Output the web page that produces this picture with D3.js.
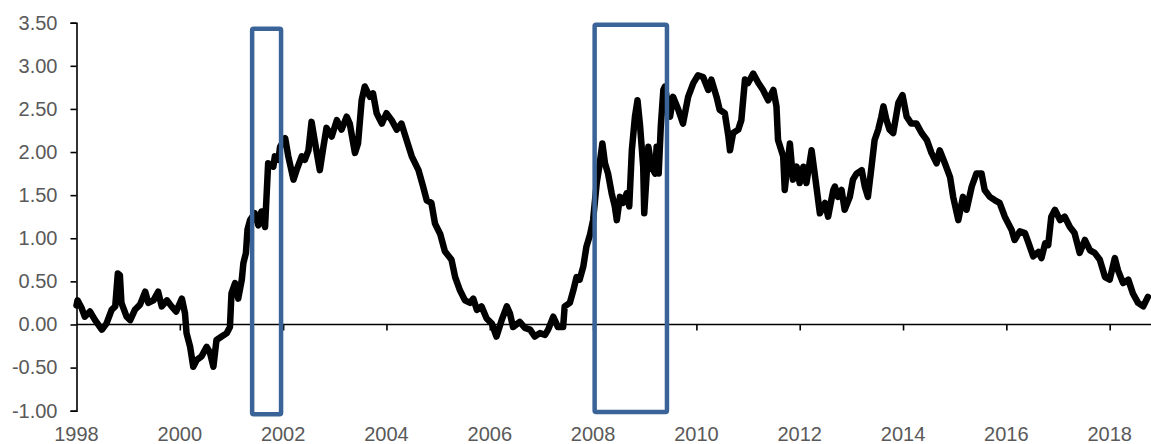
<!DOCTYPE html>
<html>
<head>
<meta charset="utf-8">
<script src="https://cdn.jsdelivr.net/npm/d3@7"></script>
<style>
  body { margin: 0; background: #fff; }
  svg text { font-family: "Liberation Sans", Arial, sans-serif; fill: #595959; }
</style>
</head>
<body>
<svg id="plot" width="1151" height="444"></svg>
<script>
// spread series (decimal year, value)
var years = [
  1998.00, 1998.02, 1998.10, 1998.16, 1998.26, 1998.36, 1998.49, 1998.58, 1998.68, 1998.75,
  1998.80, 1998.84, 1998.87, 1998.97, 1999.04, 1999.13, 1999.23, 1999.33, 1999.39, 1999.49,
  1999.58, 1999.65, 1999.75, 1999.84, 1999.93, 2000.04, 2000.10, 2000.13, 2000.20, 2000.26,
  2000.33, 2000.42, 2000.52, 2000.58, 2000.65, 2000.71, 2000.81, 2000.91, 2000.97, 2001.00,
  2001.07, 2001.13, 2001.20, 2001.23, 2001.28, 2001.31, 2001.36, 2001.45, 2001.52, 2001.58,
  2001.65, 2001.71, 2001.81, 2001.84, 2001.91, 2001.94, 2002.04, 2002.10, 2002.20, 2002.26,
  2002.36, 2002.42, 2002.49, 2002.55, 2002.62, 2002.71, 2002.78, 2002.84, 2002.94, 2003.04,
  2003.13, 2003.23, 2003.29, 2003.39, 2003.45, 2003.52, 2003.58, 2003.68, 2003.74, 2003.81,
  2003.91, 2004.00, 2004.10, 2004.20, 2004.29, 2004.39, 2004.49, 2004.62, 2004.71, 2004.78,
  2004.87, 2004.94, 2005.04, 2005.13, 2005.26, 2005.33, 2005.42, 2005.52, 2005.62, 2005.68,
  2005.75, 2005.84, 2005.94, 2006.04, 2006.13, 2006.23, 2006.33, 2006.39, 2006.45, 2006.58,
  2006.68, 2006.78, 2006.87, 2006.97, 2007.07, 2007.13, 2007.23, 2007.32, 2007.42, 2007.45,
  2007.55, 2007.62, 2007.68, 2007.74, 2007.81, 2007.87, 2007.94, 2008.00, 2008.07, 2008.12,
  2008.18, 2008.23, 2008.29, 2008.36, 2008.42, 2008.46, 2008.52, 2008.58, 2008.65, 2008.70,
  2008.75, 2008.81, 2008.86, 2008.91, 2008.97, 2008.99, 2009.07, 2009.13, 2009.20, 2009.23,
  2009.27, 2009.31, 2009.36, 2009.39, 2009.49, 2009.55, 2009.65, 2009.74, 2009.84, 2009.94,
  2010.03, 2010.13, 2010.23, 2010.29, 2010.39, 2010.45, 2010.55, 2010.62, 2010.65, 2010.71,
  2010.81, 2010.87, 2010.94, 2011.00, 2011.10, 2011.20, 2011.29, 2011.39, 2011.49, 2011.55,
  2011.58, 2011.68, 2011.71, 2011.81, 2011.87, 2011.94, 2012.00, 2012.07, 2012.13, 2012.23,
  2012.29, 2012.39, 2012.49, 2012.55, 2012.65, 2012.68, 2012.74, 2012.81, 2012.87, 2012.97,
  2013.03, 2013.10, 2013.20, 2013.26, 2013.32, 2013.39, 2013.45, 2013.52, 2013.58, 2013.62,
  2013.68, 2013.74, 2013.81, 2013.91, 2013.99, 2014.07, 2014.16, 2014.26, 2014.36, 2014.46,
  2014.55, 2014.65, 2014.71, 2014.81, 2014.91, 2014.97, 2015.07, 2015.16, 2015.23, 2015.33,
  2015.42, 2015.52, 2015.58, 2015.68, 2015.78, 2015.87, 2015.97, 2016.10, 2016.16, 2016.26,
  2016.36, 2016.42, 2016.52, 2016.62, 2016.68, 2016.75, 2016.81, 2016.87, 2016.94, 2017.04,
  2017.13, 2017.23, 2017.32, 2017.42, 2017.52, 2017.62, 2017.71, 2017.81, 2017.91, 2018.00,
  2018.10, 2018.16, 2018.26, 2018.36, 2018.45, 2018.55, 2018.65, 2018.74
];
var values = [
  0.22, 0.28, 0.19, 0.09, 0.15, 0.05, -0.06, 0.01, 0.17, 0.21,
  0.59, 0.57, 0.25, 0.09, 0.05, 0.17, 0.23, 0.38, 0.25, 0.28,
  0.38, 0.21, 0.28, 0.21, 0.15, 0.30, 0.13, -0.10, -0.26, -0.49,
  -0.41, -0.37, -0.26, -0.32, -0.49, -0.18, -0.14, -0.10, -0.03, 0.36,
  0.48, 0.30, 0.52, 0.71, 0.83, 1.10, 1.21, 1.29, 1.15, 1.31,
  1.13, 1.87, 1.83, 1.95, 1.91, 2.06, 2.16, 1.95, 1.68, 1.79,
  1.95, 1.91, 2.02, 2.35, 2.10, 1.79, 2.06, 2.28, 2.18, 2.37,
  2.26, 2.41, 2.33, 1.99, 2.10, 2.60, 2.76, 2.64, 2.68, 2.45,
  2.33, 2.45, 2.37, 2.26, 2.33, 2.14, 1.95, 1.79, 1.60, 1.44,
  1.41, 1.17, 1.05, 0.85, 0.75, 0.55, 0.40, 0.28, 0.25, 0.30,
  0.17, 0.21, 0.07, 0.01, -0.14, 0.05, 0.21, 0.13, -0.03, 0.03,
  -0.04, -0.06, -0.14, -0.10, -0.12, -0.06, 0.09, -0.03, -0.03, 0.21,
  0.25, 0.40, 0.55, 0.52, 0.67, 0.90, 1.04, 1.21, 1.64, 1.83,
  2.10, 1.87, 1.75, 1.52, 1.37, 1.21, 1.48, 1.41, 1.52, 1.37,
  2.02, 2.41, 2.60, 2.30, 1.83, 1.29, 2.06, 1.83, 1.75, 2.06,
  1.75, 2.29, 2.72, 2.76, 2.41, 2.64, 2.49, 2.33, 2.64, 2.80,
  2.89, 2.87, 2.72, 2.84, 2.64, 2.49, 2.45, 2.18, 2.02, 2.22,
  2.26, 2.37, 2.84, 2.80, 2.91, 2.80, 2.72, 2.60, 2.72, 2.53,
  2.14, 1.95, 1.56, 2.10, 1.68, 1.83, 1.64, 1.83, 1.64, 2.02,
  1.75, 1.29, 1.41, 1.25, 1.56, 1.60, 1.48, 1.56, 1.33, 1.48,
  1.68, 1.75, 1.79, 1.60, 1.48, 1.83, 2.14, 2.26, 2.41, 2.53,
  2.37, 2.26, 2.22, 2.57, 2.66, 2.41, 2.33, 2.33, 2.22, 2.14,
  1.99, 1.87, 2.02, 1.87, 1.71, 1.48, 1.21, 1.48, 1.33, 1.60,
  1.75, 1.75, 1.56, 1.48, 1.44, 1.41, 1.25, 1.10, 0.98, 1.08,
  1.06, 0.96, 0.79, 0.84, 0.77, 0.94, 0.92, 1.25, 1.33, 1.21,
  1.25, 1.13, 1.06, 0.83, 0.98, 0.86, 0.83, 0.75, 0.55, 0.52,
  0.77, 0.63, 0.48, 0.52, 0.36, 0.25, 0.21, 0.32
];

// highlighted periods (boxes)
var boxStart  = [2001.40, 2008.03];
var boxEnd    = [2001.96, 2009.43];
var boxTop    = [3.43, 3.475];
var boxBottom = [-1.04, -1.015];

var xTicks = [1998, 2000, 2002, 2004, 2006, 2008, 2010, 2012, 2014, 2016, 2018];
var yTicks = [-1, -0.5, 0, 0.5, 1, 1.5, 2, 2.5, 3, 3.5];

var svg = d3.select("#plot");

var x = d3.scaleLinear().domain([1998, 2018.8]).range([76.5, 1151]),
    y = d3.scaleLinear().domain([-1, 3.5]).range([410.7, 22.7]);

var fmt = d3.formatLocale({decimal: ".", thousands: ",", grouping: [3], currency: ["", ""], minus: "-"}).format(".2f");

var data = years.map(function(d, i) { return {t: d, v: values[i]}; });

// y axis
var yAxis = svg.append("g")
    .attr("transform", "translate(76.5,0)")
    .call(d3.axisLeft(y).tickValues(yTicks).tickSize(6).tickPadding(13).tickFormat(fmt));
yAxis.select(".domain").attr("stroke", "#000").attr("stroke-width", 1.6);
yAxis.selectAll(".tick line").attr("stroke", "#000").attr("stroke-width", 1.6);
yAxis.selectAll("text").style("font-size", "20px").attr("fill", "#595959");

// x axis sits on zero, labels at the bottom
var xAxis = svg.append("g")
    .attr("transform", "translate(0," + y(0) + ")")
    .call(d3.axisBottom(x).tickValues(xTicks.slice(1)).tickSize(6).tickFormat(""));
xAxis.select(".domain").attr("d", "M" + x.range()[0] + ",0H" + x.range()[1])
    .attr("stroke", "#000").attr("stroke-width", 1.6);
xAxis.selectAll(".tick line").attr("stroke", "#000").attr("stroke-width", 1.6);

svg.append("g").selectAll("text")
    .data(xTicks)
    .enter().append("text")
    .attr("x", function(d) { return x(d); })
    .attr("y", 441)
    .attr("text-anchor", "middle")
    .style("font-size", "20px")
    .text(function(d) { return d; });

// the series
var line = d3.line()
    .x(function(d) { return x(d.t); })
    .y(function(d) { return y(d.v); });

svg.append("path")
    .datum(data)
    .attr("d", line)
    .attr("fill", "none")
    .attr("stroke", "#000")
    .attr("stroke-width", 6.5)
    .attr("stroke-linejoin", "round")
    .attr("stroke-linecap", "round");

// boxes over the line
svg.append("g").selectAll("rect")
    .data(boxStart)
    .enter().append("rect")
    .attr("x", function(d) { return x(d); })
    .attr("y", function(d, i) { return y(boxTop[i]); })
    .attr("width", function(d, i) { return x(boxEnd[i]) - x(d); })
    .attr("height", function(d, i) { return y(boxBottom[i]) - y(boxTop[i]); })
    .attr("rx", 1.5)
    .attr("fill", "none")
    .attr("stroke", "#3A6497")
    .attr("stroke-width", 4.5);
</script>
</body>
</html>
